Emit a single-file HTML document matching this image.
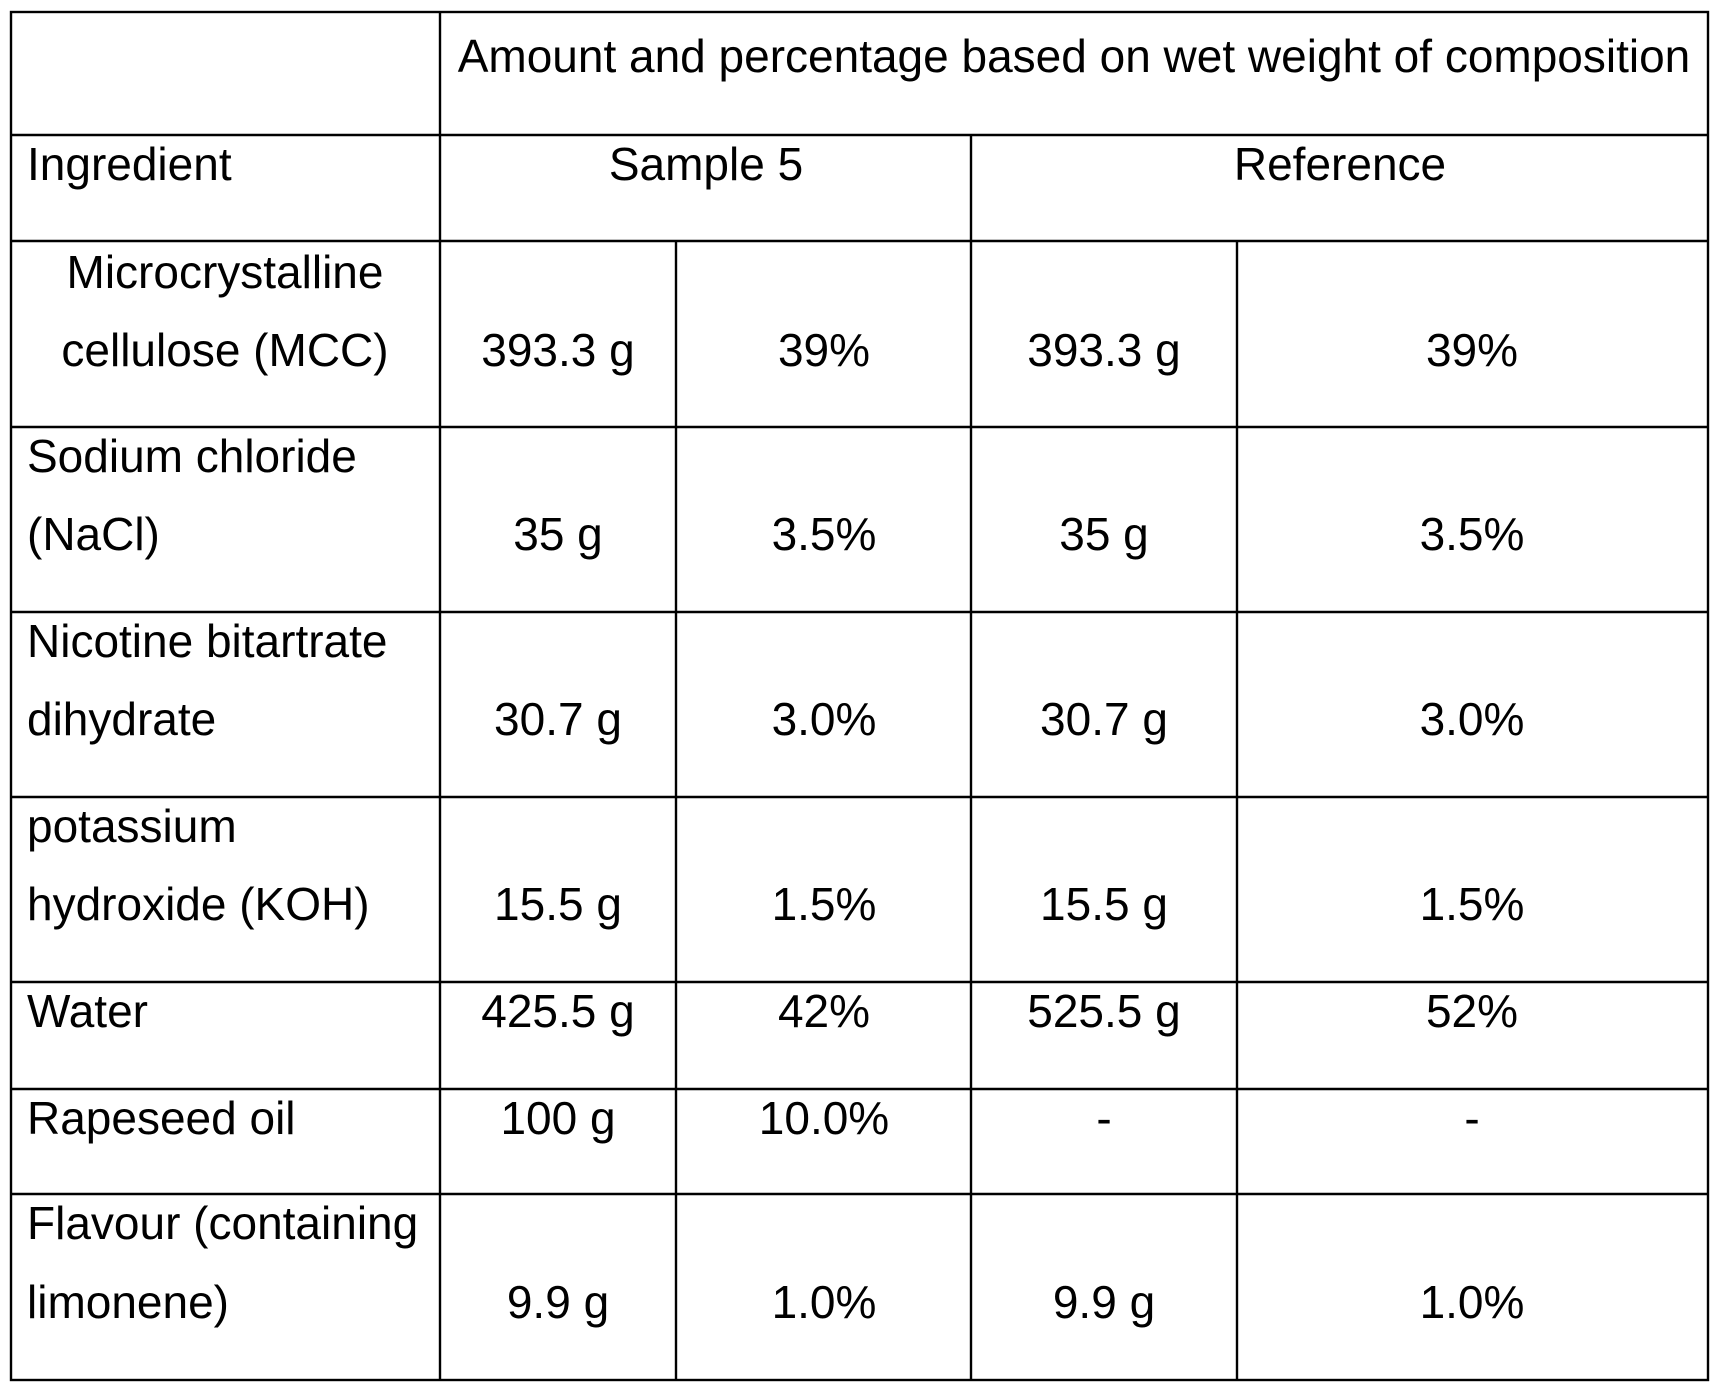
<!DOCTYPE html>
<html><head><meta charset="utf-8"><style>
html,body{margin:0;padding:0;background:#fff;}
svg{display:block;}
text{font-family:"Liberation Sans",Arial,sans-serif;font-size:46px;fill:#000;}
.c{text-anchor:middle;}
</style></head><body>
<svg width="1721" height="1392" viewBox="0 0 1721 1392">
<g stroke="#000" stroke-width="2.4" fill="none">
<rect x="11" y="12" width="1697" height="1368"/>
<line x1="440" y1="12" x2="440" y2="1380"/>
<line x1="971" y1="135" x2="971" y2="1380"/>
<line x1="676" y1="241" x2="676" y2="1380"/>
<line x1="1237" y1="241" x2="1237" y2="1380"/>
<line x1="11" y1="135" x2="1708" y2="135"/>
<line x1="11" y1="241" x2="1708" y2="241"/>
<line x1="11" y1="427" x2="1708" y2="427"/>
<line x1="11" y1="612" x2="1708" y2="612"/>
<line x1="11" y1="797" x2="1708" y2="797"/>
<line x1="11" y1="982" x2="1708" y2="982"/>
<line x1="11" y1="1089" x2="1708" y2="1089"/>
<line x1="11" y1="1194" x2="1708" y2="1194"/>
</g>
<text class="c" x="1074" y="72">Amount and percentage based on wet weight of composition</text>
<text x="27" y="180">Ingredient</text>
<text class="c" x="706" y="180">Sample 5</text>
<text class="c" x="1340" y="180">Reference</text>

<text class="c" x="225" y="288">Microcrystalline</text>
<text class="c" x="225" y="366">cellulose (MCC)</text>
<text class="c" x="558" y="366">393.3 g</text>
<text class="c" x="824" y="366">39%</text>
<text class="c" x="1104" y="366">393.3 g</text>
<text class="c" x="1472" y="366">39%</text>

<text x="27" y="472">Sodium chloride</text>
<text x="27" y="550">(NaCl)</text>
<text class="c" x="558" y="550">35 g</text>
<text class="c" x="824" y="550">3.5%</text>
<text class="c" x="1104" y="550">35 g</text>
<text class="c" x="1472" y="550">3.5%</text>

<text x="27" y="657">Nicotine bitartrate</text>
<text x="27" y="735">dihydrate</text>
<text class="c" x="558" y="735">30.7 g</text>
<text class="c" x="824" y="735">3.0%</text>
<text class="c" x="1104" y="735">30.7 g</text>
<text class="c" x="1472" y="735">3.0%</text>

<text x="27" y="842">potassium</text>
<text x="27" y="920">hydroxide (KOH)</text>
<text class="c" x="558" y="920">15.5 g</text>
<text class="c" x="824" y="920">1.5%</text>
<text class="c" x="1104" y="920">15.5 g</text>
<text class="c" x="1472" y="920">1.5%</text>

<text x="27" y="1027">Water</text>
<text class="c" x="558" y="1027">425.5 g</text>
<text class="c" x="824" y="1027">42%</text>
<text class="c" x="1104" y="1027">525.5 g</text>
<text class="c" x="1472" y="1027">52%</text>

<text x="27" y="1134">Rapeseed oil</text>
<text class="c" x="558" y="1134">100 g</text>
<text class="c" x="824" y="1134">10.0%</text>
<text class="c" x="1104" y="1134">-</text>
<text class="c" x="1472" y="1134">-</text>

<text x="27" y="1239">Flavour (containing</text>
<text x="27" y="1318">limonene)</text>
<text class="c" x="558" y="1318">9.9 g</text>
<text class="c" x="824" y="1318">1.0%</text>
<text class="c" x="1104" y="1318">9.9 g</text>
<text class="c" x="1472" y="1318">1.0%</text>
</svg>
</body></html>
